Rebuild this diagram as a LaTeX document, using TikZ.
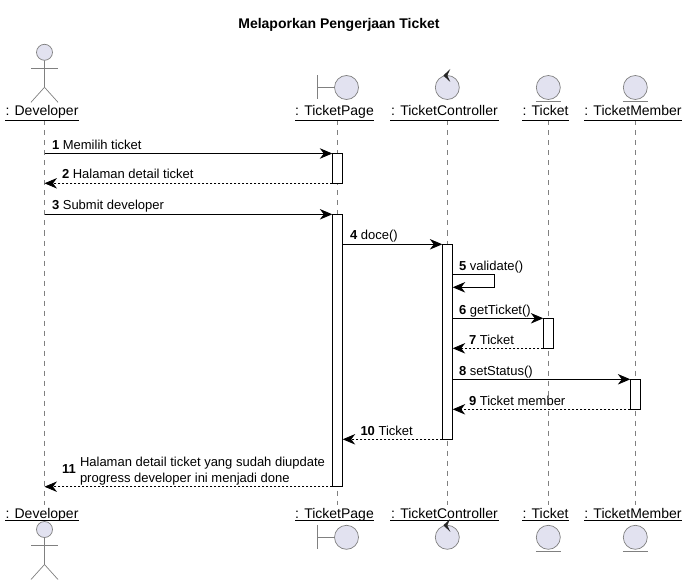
\documentclass[tikz,border=0pt]{standalone}
\usepackage{fontspec}
\setmainfont{Liberation Sans}
\usetikzlibrary{arrows.meta,positioning}
\definecolor{partfill}{HTML}{E2E2F0}
\definecolor{partline}{HTML}{808080}
\tikzset{
  icon/.style={draw=partline,line width=0.7pt},
  iconfill/.style={icon,fill=partfill},
  partlabel/.style={font=\fontsize{14}{16}\selectfont,inner sep=0pt,outer sep=0pt,anchor=base},
  lifeline/.style={draw=partline,line width=0.6pt,dash pattern=on 5pt off 5pt},
  actbox/.style={draw=black,fill=white,line width=0.8pt,minimum width=10.4pt,inner sep=0pt,outer sep=0pt},
  msgline/.style={draw=black,line width=0.8pt,-{Stealth[length=12.5pt,width=10.5pt,inset=4pt]}},
  retline/.style={msgline,dash pattern=on 2pt off 2pt},
  msgtext/.style={font=\fontsize{13}{16.5}\selectfont,inner sep=0pt,outer sep=0pt,anchor=base west},
}
\newcommand{\actorfig}[2]{%
  \draw[iconfill] (#1,#2) circle (8);
  \draw[icon] (#1,#2+8) -- (#1,#2+35) -- (#1-13.5,#2+50);
  \draw[icon] (#1,#2+35) -- (#1+13.5,#2+50);
  \draw[icon] (#1-13.5,#2+16) -- (#1+13.5,#2+16);
}
\newcommand{\boundaryfig}[2]{%
  \draw[icon] (#1-29.5,#2-12) -- (#1-29.5,#2+12);
  \draw[icon] (#1-29.5,#2) -- (#1-12,#2);
  \draw[iconfill] (#1,#2) circle (12);
}
\newcommand{\controlfig}[2]{%
  \draw[iconfill] (#1,#2) circle (12);
  \fill[black!85] (#1-4,#2-12) -- (#1+3,#2-18.5) -- (#1,#2-12) -- (#1+3,#2-5.5) -- cycle;
}
\newcommand{\entityfig}[2]{%
  \draw[iconfill] (#1,#2) circle (12);
  \draw[icon] (#1-12.5,#2+14) -- (#1+12.5,#2+14);
}
\newcommand{\activ}[4]{%
  \node[actbox,minimum height={(#4-#3)*1pt}] (#1) at (#2,{(#3+#4)/2}) {};
}

\begin{document}
\begin{tikzpicture}[x=1pt,y=-1pt]
  \useasboundingbox (0,0) rectangle (687,585);
  \node[inner sep=0pt,font=\fontsize{14}{16}\selectfont\bfseries] (title) at (339,25) {Melaporkan Pengerjaan Ticket};

  % participants
  \foreach \x/\c/\w/\name/\lab in {44.5/42/74/dev/Developer,337.5/334.5/79/page/TicketPage,447.5/444.5/109/ctrl/TicketController,548.5/545.5/47/tick/Ticket,635.3/633/98/memb/TicketMember} {
    \node[partlabel,minimum width=\w pt] (\name T) at (\c,116) {: \lab};
    \node[partlabel,minimum width=\w pt] (\name B) at (\c,518) {: \lab};
    \coordinate (\name Top) at (\x,120.5);
    \coordinate (\name End) at (\x,505);
    \draw[lifeline] (\name Top) -- (\name End);
  }
  \foreach \name/\x/\w in {dev/42/37,page/334.5/39.5,ctrl/444.5/54.5,tick/545.5/23.5,memb/633/49} {
    \coordinate (\name TL) at (\x-\w,120.5);
    \coordinate (\name TR) at (\x+\w,120.5);
    \coordinate (\name BL) at (\x-\w,520.7);
    \coordinate (\name BR) at (\x+\w,520.7);
    \draw[line width=0.8pt] (\name TL) -- (\name TR);
    \draw[line width=0.8pt] (\name BL) -- (\name BR);
  }

  \actorfig{44.5}{52.3}
  \actorfig{44.5}{529.5}
  \boundaryfig{346.5}{87.5}
  \boundaryfig{346.5}{537.3}
  \controlfig{447.3}{87.5}
  \controlfig{447.3}{537.3}
  \entityfig{548.3}{87.5}
  \entityfig{548.3}{537.3}
  \entityfig{635.3}{87.5}
  \entityfig{635.3}{537.3}

  % activations
  \activ{actPageA}{337.5}{153.5}{183.3}
  \activ{actPageB}{337.5}{214.3}{486.7}
  \activ{actCtrl}{447.5}{244.3}{439.3}
  \activ{actTick}{548.5}{318.3}{348.3}
  \activ{actMemb}{635.5}{379.3}{409.3}

  % messages
  \draw[msgline] (devTop |- actPageA.north west) -- (actPageA.north west);
  \draw[retline] (actPageA.south west) -- (devTop |- actPageA.south west);
  \draw[msgline] (devTop |- actPageB.north west) -- (actPageB.north west);
  \draw[msgline] (actPageB.east |- actCtrl.north west) -- (actCtrl.north west);
  \coordinate (selfA) at (452.7,274.3);
  \coordinate (selfB) at (452.7,287.3);
  \draw[msgline] (selfA) -- (494.3,274.3) -- (494.3,287.3) -- (selfB);
  \draw[msgline] (actCtrl.east |- actTick.north west) -- (actTick.north west);
  \draw[retline] (actTick.south west) -- (actCtrl.east |- actTick.south west);
  \draw[msgline] (actCtrl.east |- actMemb.north west) -- (actMemb.north west);
  \draw[retline] (actMemb.south west) -- (actCtrl.east |- actMemb.south west);
  \draw[retline] (actCtrl.south west) -- (actPageB.east |- actCtrl.south west);
  \draw[retline] (actPageB.south west) -- (devTop |- actPageB.south west);

  % message labels
  \foreach \x/\y/\n/\txt in {52/149.5/1/Memilih ticket,62/179/2/Halaman detail ticket,52/209.5/3/Submit developer,350/240/4/doce(),459/270.5/5/validate(),459/314/6/getTicket(),469/344.5/7/Ticket,459/375/8/setStatus(),469/405.5/9/Ticket member,360.5/435.5/10/Ticket}
    \node[msgtext] (msg\n) at (\x,\y) {\textbf{\n} \txt};
  \node[msgtext] (msgnum) at (62,473) {\textbf{11}};
  \node[msgtext,align=left,anchor=north west] (msgtxt) at (80,457) {Halaman detail ticket yang sudah diupdate\\progress developer ini menjadi done};
\end{tikzpicture}
\end{document}
